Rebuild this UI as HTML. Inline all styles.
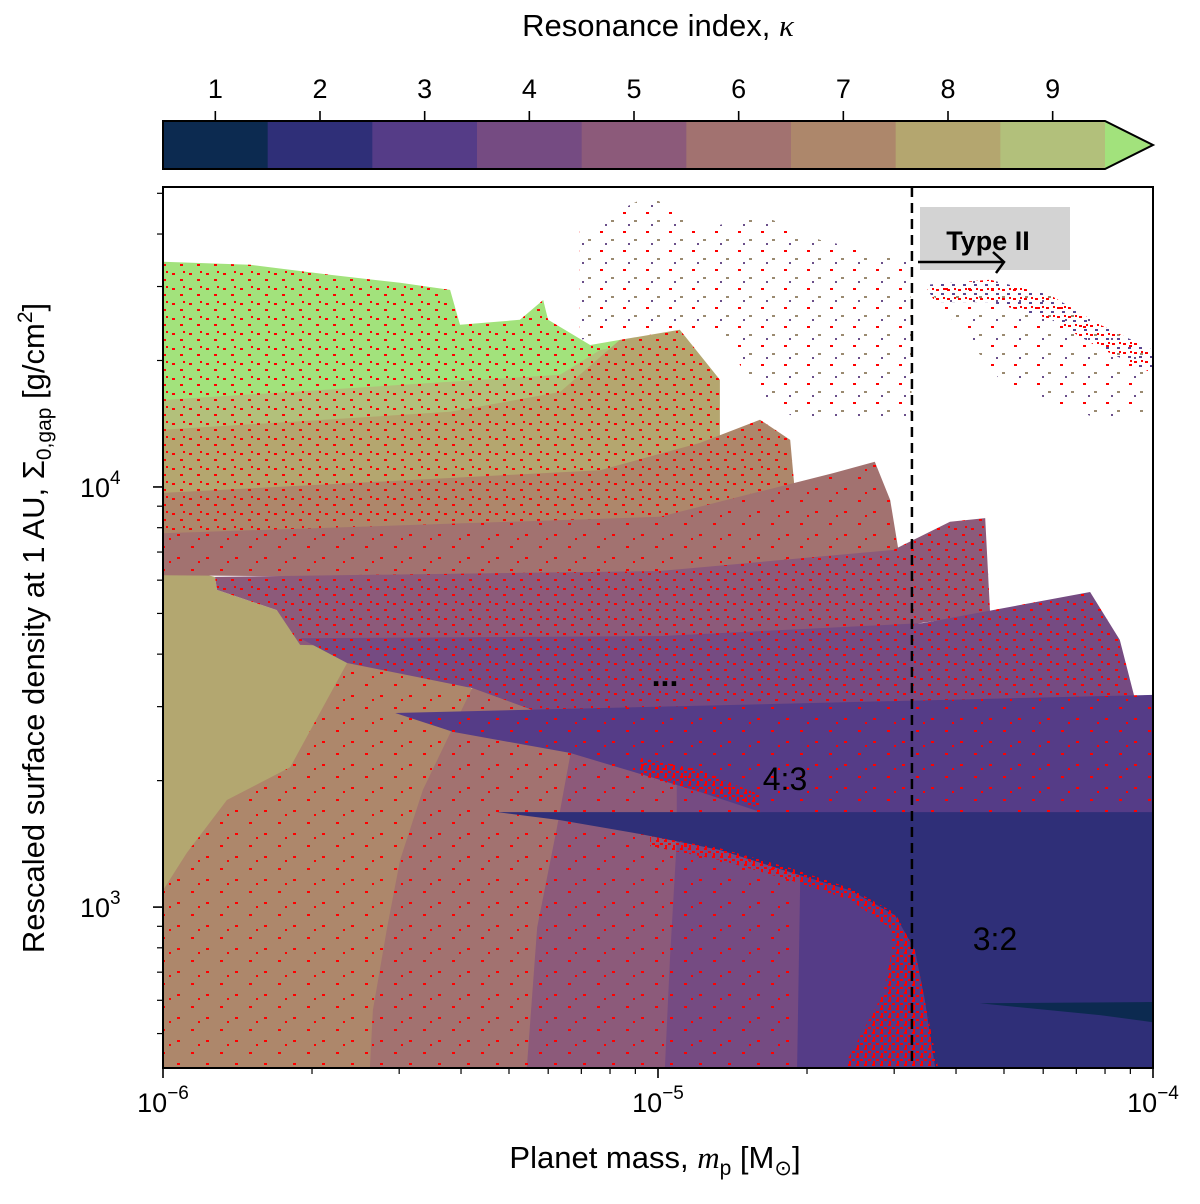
<!DOCTYPE html>
<html><head><meta charset="utf-8">
<style>
html,body{margin:0;padding:0;background:#fff;}
svg{display:block;font-family:"Liberation Sans","DejaVu Sans",sans-serif;}
</style></head>
<body>
<svg id="chart" width="1200" height="1204" viewBox="0 0 1200 1204" xmlns="http://www.w3.org/2000/svg">
<defs>
  <pattern id="sparse" patternUnits="userSpaceOnUse" width="29" height="23">
    <rect x="3" y="5" width="3" height="2" fill="#ff0000"/>
    <rect x="17" y="17" width="3" height="2" fill="#ff0000"/>
    <rect x="24" y="9" width="2" height="2" fill="#ff0000"/>
  </pattern>
  <pattern id="medium" patternUnits="userSpaceOnUse" width="17" height="15">
    <rect x="2" y="3" width="3" height="2" fill="#ff0000"/>
    <rect x="10" y="9" width="3" height="2" fill="#ff0000"/>
    <rect x="13" y="1" width="2" height="2" fill="#ff0000"/>
  </pattern>
  <pattern id="dense" patternUnits="userSpaceOnUse" width="8" height="8">
    <rect x="0" y="0" width="3" height="2" fill="#ff0000"/>
    <rect x="4" y="3" width="3" height="2" fill="#ff0000"/>
    <rect x="1" y="5" width="2" height="3" fill="#ff0000"/>
  </pattern>
  <pattern id="cloud" patternUnits="userSpaceOnUse" width="23" height="19">
    <rect x="2" y="3" width="3" height="2" fill="#ff0000"/>
    <rect x="13" y="11" width="3" height="2" fill="#9a8a70"/>
    <rect x="7" y="15" width="2" height="2" fill="#6a4f8a"/>
  </pattern>
  <pattern id="cloudDense" patternUnits="userSpaceOnUse" width="11" height="9">
    <rect x="1" y="1" width="3" height="2" fill="#ff0000"/>
    <rect x="6" y="5" width="3" height="2" fill="#5a4690"/>
    <rect x="8" y="0" width="2" height="2" fill="#ff0000"/>
  </pattern>
  <clipPath id="plotClip"><rect x="163" y="187" width="990" height="881"/></clipPath>
</defs>
<g id="plot" clip-path="url(#plotClip)"></g>
<g id="overlay"></g>
<g id="axes"></g>
<g id="cbar"></g>
</svg>
<script>
// ---- colorbar data ----
const kappaLabels = [1,2,3,4,5,6,7,8,9];
const kappaColors = ["#0c2a50","#2f2f78","#553c87","#754b82","#8c5a7a","#a27270","#ad876b","#b4a66f","#b2c07b"];
const extendColor = "#a2e27c";

// ---- region data: [log10 mass (Msun), log10 Sigma (g/cm2)] ----
const bandV7 = [[-6,3.826],[-5.72,3.64],[-5.4,3.53],[-5.2,3.45],[-4.8,3.25],[-4.7,3.15],[-4.48,3.0],[-4.40,2.617],[-6,2.617]];
const bandV6 = [[-5.374,3.55],[-5.2,3.45],[-4.8,3.25],[-4.7,3.15],[-4.48,3.0],[-4.40,2.617],[-5.582,2.617],[-5.576,2.755],[-5.547,2.952],[-5.521,3.112],[-5.475,3.279],[-5.420,3.414],[-5.374,3.524]];
const bandV5 = [[-5.178,3.44],[-4.8,3.25],[-4.7,3.15],[-4.48,3.0],[-4.40,2.617],[-5.265,2.617],[-5.244,2.952],[-5.204,3.190],[-5.178,3.357]];
const bandV4 = [[-4.962,3.33],[-4.8,3.25],[-4.7,3.15],[-4.48,3.0],[-4.40,2.617],[-4.986,2.617],[-4.976,2.874],[-4.962,3.160]];
const bandV3 = [[-4.713,3.16],[-4.48,3.0],[-4.40,2.617],[-4.719,2.617],[-4.713,3.048]];
const wedgeK8 = [[-6,3.814],[-5.895,3.786],[-5.891,3.755],[-5.770,3.707],[-5.628,3.581],[-5.743,3.333],[-5.871,3.255],[-5.952,3.129],[-6,3.040]];
const regionGreen = [[-6,4.536],[-5.824,4.529],[-5.663,4.505],[-5.521,4.486],[-5.420,4.469],[-5.400,4.386],[-5.279,4.398],[-5.232,4.445],[-5.222,4.398],[-5.137,4.338],[-5.077,4.350],[-5.057,4.207],[-6,4.136]];
const tongueK9 = [[-6,4.207],[-5.198,4.267],[-5.117,4.326],[-5.057,4.338],[-5.057,4.207],[-6,4.124]];
const tongueK8 = [[-6,4.136],[-5.420,4.179],[-5.198,4.226],[-5.077,4.350],[-4.956,4.374],[-4.875,4.255],[-4.875,3.98],[-6,3.93]];
const tongueK7 = [[-6,3.986],[-5.117,4.040],[-4.915,4.105],[-4.794,4.160],[-4.733,4.112],[-4.713,3.85],[-6,3.83]];
const tongueK6 = [[-6,3.890],[-4.996,3.929],[-4.646,4.033],[-4.562,4.060],[-4.531,3.969],[-4.511,3.826],[-4.915,3.779],[-6,3.790]];
const tongueK5 = [[-5.895,3.786],[-4.996,3.800],[-4.525,3.850],[-4.410,3.917],[-4.339,3.926],[-4.329,3.70],[-4.915,3.60],[-5.723,3.624],[-5.770,3.707],[-5.891,3.755]];
const tongueK4 = [[-5.723,3.640],[-4.996,3.645],[-4.465,3.676],[-4.127,3.750],[-4.067,3.636],[-4.036,3.493],[-5.198,3.445],[-5.374,3.521],[-5.628,3.581]];
const tongueK3 = [[-5.531,3.462],[-4,3.505],[-4,3.219],[-4.774,3.219],[-4.915,3.274],[-5.016,3.310],[-5.178,3.367],[-5.414,3.417]];
const tongueK2 = [[-5.325,3.226],[-4,3.226],[-4,2.617],[-4.440,2.617],[-4.461,2.779],[-4.481,2.898],[-4.521,2.981],[-4.612,3.040],[-4.733,3.083],[-4.875,3.136],[-5.036,3.174],[-5.198,3.207]];
const sliverK1 = [[-4.350,2.771],[-4,2.774],[-4,2.726],[-4.107,2.743]];
const red32Band = [[-5.016,3.169],[-4.875,3.140],[-4.733,3.093],[-4.612,3.045],[-4.521,2.986],[-4.487,2.910],[-4.511,2.933],[-4.612,3.017],[-4.733,3.064],[-4.875,3.112],[-5.016,3.145]];
const red32Bulge = [[-4.531,2.981],[-4.481,2.898],[-4.461,2.779],[-4.434,2.617],[-4.626,2.617],[-4.545,2.795],[-4.527,2.898]];
const red43Band = [[-5.036,3.355],[-4.915,3.326],[-4.794,3.267],[-4.794,3.236],[-4.915,3.274],[-5.036,3.314]];
const cloudTop = [[-5.158,4.612],[-5.016,4.695],[-4.915,4.612],[-4.794,4.648],[-4.673,4.588],[-4.491,4.540],[-4.487,4.160],[-4.713,4.160],[-4.794,4.207],[-4.875,4.374],[-5.057,4.374],[-5.158,4.350]];
const cloudTypeII = [[-4.461,4.481],[-4.329,4.493],[-4.208,4.457],[-4.107,4.386],[-4,4.326],[-4,4.183],[-4.107,4.160],[-4.208,4.207],[-4.309,4.255],[-4.390,4.374]];
const cloudTypeIIArc = [[-4.461,4.481],[-4.329,4.493],[-4.208,4.457],[-4.107,4.386],[-4,4.326],[-4,4.270],[-4.107,4.330],[-4.208,4.400],[-4.329,4.440],[-4.440,4.440]];

// ---- axis ticks ----
const xMajorTicks = [-6,-5,-4];
const xMajorLabels = ["\u22126","\u22125","\u22124"];
const yMajorTicks = [3,4];
const yMajorLabels = ["3","4"];
const minorMult = [2,3,4,5,6,7,8,9];

// ---- axis functions ----
const xMin=-6,xMax=-4,yMin=2.617,yMax=4.714;
const X = lm => 163 + (lm - xMin) / (xMax - xMin) * 990;
const Y = ls => 1068 - (ls - yMin) / (yMax - yMin) * 881;

const NS="http://www.w3.org/2000/svg";
function mk(tag, attrs, parent){ const e=document.createElementNS(NS,tag); for(const k in attrs) e.setAttribute(k,attrs[k]); parent.appendChild(e); return e; }
function pts(arr){ return arr.map(p=>X(p[0]).toFixed(1)+","+Y(p[1]).toFixed(1)).join(" "); }

const plot=document.getElementById("plot");
function region(arr, fill, name, speck){
  const p=mk("polygon",{points:pts(arr),fill:fill},plot);
  
  
  if(speck){
    const s=mk("polygon",{points:pts(arr),fill:"url(#"+speck+")"},plot);
    
    
  }
}
const K = k => kappaColors[k-1];
region(bandV7, K(7), "band-kappa-7", "sparse");
region(bandV6, K(6), "band-kappa-6", "sparse");
region(bandV5, K(5), "band-kappa-5", "sparse");
region(bandV4, K(4), "band-kappa-4", "sparse");
region(bandV3, K(3), "band-kappa-3", null);
region(wedgeK8, "#b3a770", "wedge-kappa-8", null);
region(regionGreen, extendColor, "region-kappa-above-9", "medium");
region(tongueK9, K(9), "tongue-kappa-9", "medium");
region(tongueK8, K(8), "tongue-kappa-8", "medium");
region(tongueK7, K(7), "tongue-kappa-7", "medium");
region(tongueK6, K(6), "tongue-kappa-6", "sparse");
region(tongueK5, K(5), "tongue-kappa-5", "medium");
region(tongueK4, K(4), "tongue-kappa-4", "medium");
region(tongueK3, K(3), "tongue-kappa-3", "sparse");
region(tongueK2, K(2), "tongue-kappa-2", null);
region(sliverK1, K(1), "sliver-kappa-1", null);
region(red32Band, "url(#dense)", "unstable-band-3-2", null);
region(red32Bulge, "url(#dense)", "unstable-bulge-3-2", null);
region(red43Band, "url(#dense)", "unstable-band-4-3", null);
region(cloudTop, "url(#cloud)", "scatter-cloud-top", null);
region(cloudTypeII, "url(#cloud)", "scatter-cloud-type-ii", null);
region(cloudTypeIIArc, "url(#cloudDense)", "scatter-arc-type-ii", null);

// ---- overlay annotations ----
const ov=document.getElementById("overlay");
const vline=mk("line",{x1:X(-4.487),x2:X(-4.487),y1:187,y2:1068,stroke:"#000","stroke-width":2.5,"stroke-dasharray":"10,6"},ov);


const box=mk("rect",{x:920,y:207,width:150,height:63,fill:"#d3d3d3"},ov);


const t2=mk("text",{x:988,y:250,"font-size":27,"font-weight":"bold","text-anchor":"middle",fill:"#000"},ov);
t2.textContent="Type II";


const arr=mk("path",{d:"M918,262 L1003,262 M993,252 L1004,262 L996,273",stroke:"#000","stroke-width":2.5,fill:"none"},ov);


const l43=mk("text",{x:785,y:790,"font-size":32,"text-anchor":"middle",fill:"#000"},ov);
l43.textContent="4:3";


const l32=mk("text",{x:995,y:950,"font-size":32,"text-anchor":"middle",fill:"#000"},ov);
l32.textContent="3:2";


const dots=mk("text",{x:665,y:686,"font-size":32,"font-weight":"bold","text-anchor":"middle",fill:"#000"},ov);
dots.textContent="...";



// ---- axes ----
const ax=document.getElementById("axes");
const frame=mk("rect",{x:163,y:187,width:990,height:881,fill:"none",stroke:"#000","stroke-width":2},ax);


xMajorTicks.forEach((v,i)=>{
  const tk=mk("line",{x1:X(v),x2:X(v),y1:1068,y2:1078,stroke:"#000","stroke-width":1.6},ax);
  
  
  const tx=mk("text",{x:X(v),y:1112,"font-size":27,"text-anchor":"middle",fill:"#000"},ax);
  
  
  tx.appendChild(document.createTextNode("10"));
  const sp=mk("tspan",{dy:-13,"font-size":19},tx); sp.textContent=xMajorLabels[i];
  if(v<xMax){ minorMult.forEach(m=>{
    const mv=v+Math.log10(m);
    const mt=mk("line",{x1:X(mv),x2:X(mv),y1:1068,y2:1074,stroke:"#000","stroke-width":1.2},ax);
    
    
  });}
});
yMajorTicks.forEach((v,i)=>{
  const tk=mk("line",{x1:153,x2:163,y1:Y(v),y2:Y(v),stroke:"#000","stroke-width":1.6},ax);
  
  
  const tx=mk("text",{x:80,y:Y(v)+10,"font-size":27,fill:"#000"},ax);
  
  
  tx.appendChild(document.createTextNode("10"));
  const sp=mk("tspan",{dy:-13,"font-size":19},tx); sp.textContent=yMajorLabels[i];
});
[2,3,4].forEach(d=>{ minorMult.forEach(m=>{
  const mv=d+Math.log10(m);
  if(mv<yMin||mv>yMax) return;
  const mt=mk("line",{x1:157,x2:163,y1:Y(mv),y2:Y(mv),stroke:"#000","stroke-width":1.2},ax);
  
  
});});
const xt=mk("text",{x:655,y:1168,"font-size":31,"text-anchor":"middle",fill:"#000"},ax);


xt.innerHTML='Planet mass, <tspan font-style="italic" font-family="Liberation Serif, serif">m</tspan><tspan dy="7" font-size="21">p</tspan><tspan dy="-7"> [M</tspan><tspan dy="7" font-size="21">\u2299</tspan><tspan dy="-7">]</tspan>';
const yt=mk("text",{x:0,y:0,"font-size":31,"text-anchor":"middle",fill:"#000",transform:"translate(44,628) rotate(-90)"},ax);


yt.innerHTML='Rescaled surface density at 1 AU, \u03A3<tspan dy="7" font-size="21">0,gap</tspan><tspan dy="-7"> [g/cm</tspan><tspan dy="-12" font-size="21">2</tspan><tspan dy="12">]</tspan>';

// ---- colorbar ----
const cb=document.getElementById("cbar");
const cbX0=163,cbX1=1105,cbY0=121,cbY1=169;
const segW=(cbX1-cbX0)/kappaLabels.length;
kappaLabels.forEach((k,i)=>{
  const r=mk("rect",{x:cbX0+i*segW,y:cbY0,width:segW+0.5,height:cbY1-cbY0,fill:kappaColors[i]},cb);
  
  
  const cx=cbX0+(i+0.5)*segW;
  const tk=mk("line",{x1:cx,x2:cx,y1:cbY0,y2:cbY0-10,stroke:"#000","stroke-width":1.6},cb);
  
  
  const tl=mk("text",{x:cx,y:cbY0-23,"font-size":27,"text-anchor":"middle",fill:"#000"},cb);
  tl.textContent=String(k);
  
  
});
const ext=mk("polygon",{points:`${cbX1},${cbY0} ${cbX1+48},${(cbY0+cbY1)/2} ${cbX1},${cbY1}`,fill:extendColor},cb);


const cbo=mk("polygon",{points:`${cbX0},${cbY0} ${cbX1},${cbY0} ${cbX1+48},${(cbY0+cbY1)/2} ${cbX1},${cbY1} ${cbX0},${cbY1}`,fill:"none",stroke:"#000","stroke-width":2},cb);


const cbt=mk("text",{x:658,y:36,"font-size":31,"text-anchor":"middle",fill:"#000"},cb);


cbt.innerHTML='Resonance index, <tspan font-style="italic" font-family="Liberation Serif, serif">\u03BA</tspan>';
</script>
</body></html>
